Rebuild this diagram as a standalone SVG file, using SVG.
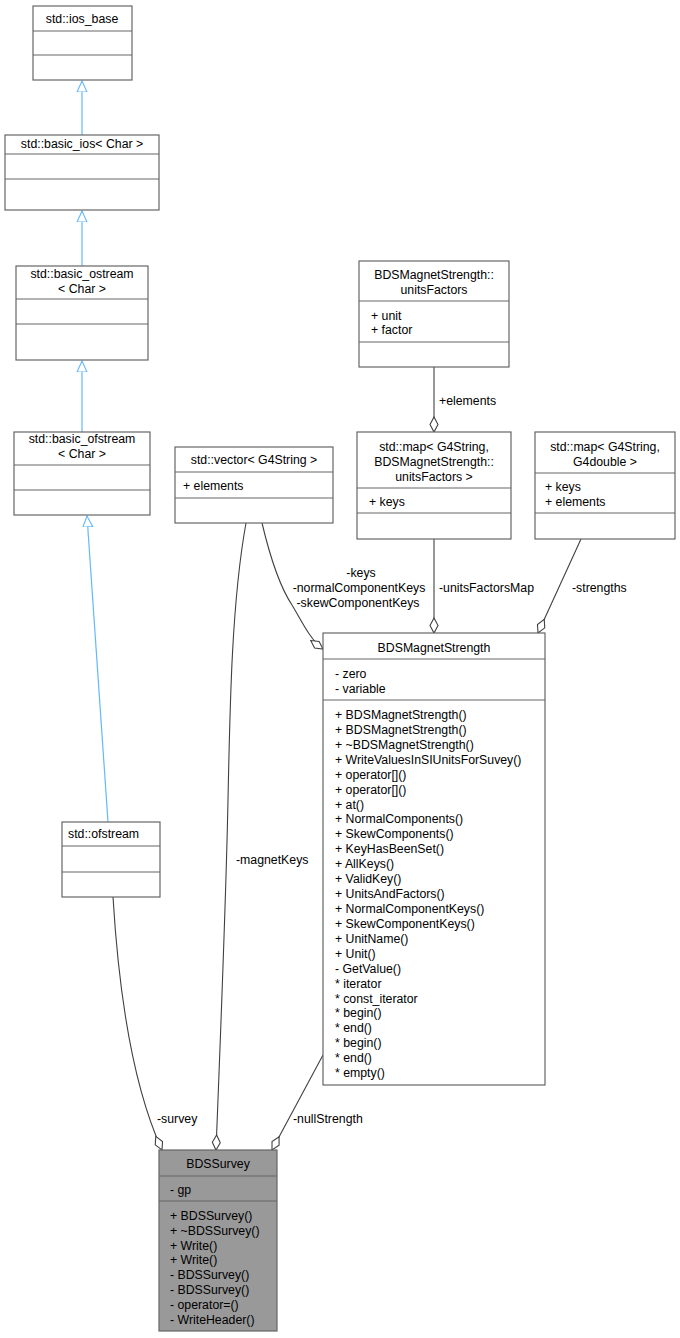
<svg xmlns="http://www.w3.org/2000/svg" width="680" height="1338" viewBox="0 0 680 1338">
<style>
text{font-family:"Liberation Sans",Arial,sans-serif;font-size:12.3px;fill:#000}
.c{text-anchor:middle}
.b{fill:#fff;stroke:#666;stroke-width:1.2}
.g{fill:#999;stroke:#666;stroke-width:1.2}
.l{stroke:#666;stroke-width:1.2}
.inh{fill:none;stroke:#63b8ff;stroke-width:1.2}
.agg{fill:none;stroke:#404040;stroke-width:1.1}
</style>
<defs>
<marker id="tri" markerWidth="12" markerHeight="14" refX="11" refY="6" orient="auto" markerUnits="userSpaceOnUse"><path d="M0,1 L11,6 L0,11 Z" fill="#fff" stroke="#63b8ff" stroke-width="1.1"/></marker>
<marker id="dia" markerWidth="18" markerHeight="10" refX="16" refY="5" orient="auto" markerUnits="userSpaceOnUse"><path d="M1,5 L8.5,1 L16,5 L8.5,9 Z" fill="#fff" stroke="#404040" stroke-width="1.1"/></marker>
</defs>
<g id="connectors">
<path class="inh" d="M82,135 L82,81" marker-end="url(#tri)"/>
<path class="inh" d="M82,266 L82,211" marker-end="url(#tri)"/>
<path class="inh" d="M82,432 L82,361" marker-end="url(#tri)"/>
<path class="inh" d="M108,822 L87,516" marker-end="url(#tri)"/>
<path class="agg" d="M434,367 L434,432" marker-end="url(#dia)"/>
<text x="439" y="405">+elements</text>
<path class="agg" d="M434,539 L434,633" marker-end="url(#dia)"/>
<text x="439" y="592">-unitsFactorsMap</text>
<path class="agg" d="M581,539 L538,633" marker-end="url(#dia)"/>
<text x="572" y="592">-strengths</text>
<path class="agg" d="M262,523 C272,565 282,590 292,605 C300,618 310,640 323,649" marker-end="url(#dia)"/>
<text class="c" x="361" y="577">-keys</text>
<text class="c" x="359" y="592">-normalComponentKeys</text>
<text class="c" x="358" y="607">-skewComponentKeys</text>
<path class="agg" d="M246,523 C232,600 230,700 228,800 C226,900 220,1050 216,1150" marker-end="url(#dia)"/>
<text x="236" y="864">-magnetKeys</text>
<path class="agg" d="M113,897 C118,980 130,1080 162,1150" marker-end="url(#dia)"/>
<text x="157" y="1123">-survey</text>
<path class="agg" d="M323,1055 L272,1150" marker-end="url(#dia)"/>
<text x="293" y="1123">-nullStrength</text>
</g>
<g id="ios_base"><rect class="b" x="33" y="6" width="99" height="74"/><line class="l" x1="33" y1="31" x2="132" y2="31"/><line class="l" x1="33" y1="55" x2="132" y2="55"/><text class="c" x="82" y="23">std::ios_base</text></g>
<g id="basic_ios"><rect class="b" x="5" y="135" width="154" height="75"/><line class="l" x1="5" y1="154" x2="159" y2="154"/><line class="l" x1="5" y1="179" x2="159" y2="179"/><text class="c" x="82" y="148">std::basic_ios&lt; Char &gt;</text></g>
<g id="basic_ostream"><rect class="b" x="16" y="266" width="132" height="94"/><line class="l" x1="16" y1="299" x2="148" y2="299"/><line class="l" x1="16" y1="324" x2="148" y2="324"/><text class="c" x="82" y="278">std::basic_ostream</text><text class="c" x="82" y="293">&lt; Char &gt;</text></g>
<g id="basic_ofstream"><rect class="b" x="14" y="432" width="136" height="83"/><line class="l" x1="14" y1="465" x2="150" y2="465"/><line class="l" x1="14" y1="490" x2="150" y2="490"/><text class="c" x="82" y="443">std::basic_ofstream</text><text class="c" x="82" y="458">&lt; Char &gt;</text></g>
<g id="ofstream"><rect class="b" x="62" y="822" width="98" height="75"/><line class="l" x1="62" y1="846" x2="160" y2="846"/><line class="l" x1="62" y1="872" x2="160" y2="872"/><text x="68" y="838">std::ofstream</text></g>
<g id="vector"><rect class="b" x="175" y="447" width="158" height="76"/><line class="l" x1="175" y1="472" x2="333" y2="472"/><line class="l" x1="175" y1="498" x2="333" y2="498"/><text class="c" x="254" y="464">std::vector&lt; G4String &gt;</text><text x="183" y="490">+ elements</text></g>
<g id="unitsFactors"><rect class="b" x="359" y="261" width="150" height="106"/><line class="l" x1="359" y1="301" x2="509" y2="301"/><line class="l" x1="359" y1="342" x2="509" y2="342"/><text class="c" x="434" y="279">BDSMagnetStrength::</text><text class="c" x="434" y="294">unitsFactors</text><text x="371" y="320">+ unit</text><text x="371" y="334">+ factor</text></g>
<g id="map_units"><rect class="b" x="357" y="432" width="154" height="107"/><line class="l" x1="357" y1="488" x2="511" y2="488"/><line class="l" x1="357" y1="513" x2="511" y2="513"/><text class="c" x="434" y="451">std::map&lt; G4String,</text><text class="c" x="434" y="466">BDSMagnetStrength::</text><text class="c" x="434" y="481">unitsFactors &gt;</text><text x="369" y="506">+ keys</text></g>
<g id="map_double"><rect class="b" x="535" y="432" width="140" height="107"/><line class="l" x1="535" y1="473" x2="675" y2="473"/><line class="l" x1="535" y1="513" x2="675" y2="513"/><text class="c" x="605" y="451">std::map&lt; G4String,</text><text class="c" x="605" y="466">G4double &gt;</text><text x="545" y="491">+ keys</text><text x="545" y="506">+ elements</text></g>
<g id="BDSMagnetStrength"><rect class="b" x="323" y="633" width="222" height="452"/><line class="l" x1="323" y1="659" x2="545" y2="659"/><line class="l" x1="323" y1="700" x2="545" y2="700"/><text class="c" x="434" y="652">BDSMagnetStrength</text>
<text x="335" y="678">- zero</text><text x="335" y="693">- variable</text>
<text x="335" y="719">+ BDSMagnetStrength()</text><text x="335" y="733.9">+ BDSMagnetStrength()</text><text x="335" y="748.8">+ ~BDSMagnetStrength()</text><text x="335" y="763.8">+ WriteValuesInSIUnitsForSuvey()</text><text x="335" y="778.7">+ operator[]()</text><text x="335" y="793.6">+ operator[]()</text><text x="335" y="808.5">+ at()</text><text x="335" y="823.4">+ NormalComponents()</text><text x="335" y="838.4">+ SkewComponents()</text><text x="335" y="853.3">+ KeyHasBeenSet()</text><text x="335" y="868.2">+ AllKeys()</text><text x="335" y="883.1">+ ValidKey()</text><text x="335" y="898">+ UnitsAndFactors()</text><text x="335" y="913">+ NormalComponentKeys()</text><text x="335" y="927.9">+ SkewComponentKeys()</text><text x="335" y="942.8">+ UnitName()</text><text x="335" y="957.7">+ Unit()</text><text x="335" y="972.6">- GetValue()</text><text x="335" y="987.6">* iterator</text><text x="335" y="1002.5">* const_iterator</text><text x="335" y="1017.4">* begin()</text><text x="335" y="1032.3">* end()</text><text x="335" y="1047.2">* begin()</text><text x="335" y="1062.2">* end()</text><text x="335" y="1077">* empty()</text></g>
<g id="BDSSurvey"><rect class="g" x="159" y="1150" width="118" height="181"/><line class="l" x1="159" y1="1176" x2="277" y2="1176"/><line class="l" x1="159" y1="1201" x2="277" y2="1201"/><text class="c" x="218" y="1168">BDSSurvey</text><text x="170" y="1194">- gp</text>
<text x="170" y="1220">+ BDSSurvey()</text><text x="170" y="1234.8">+ ~BDSSurvey()</text><text x="170" y="1249.6">+ Write()</text><text x="170" y="1264.4">+ Write()</text><text x="170" y="1279.2">- BDSSurvey()</text><text x="170" y="1294">- BDSSurvey()</text><text x="170" y="1308.8">- operator=()</text><text x="170" y="1323.6">- WriteHeader()</text></g>
</svg>
